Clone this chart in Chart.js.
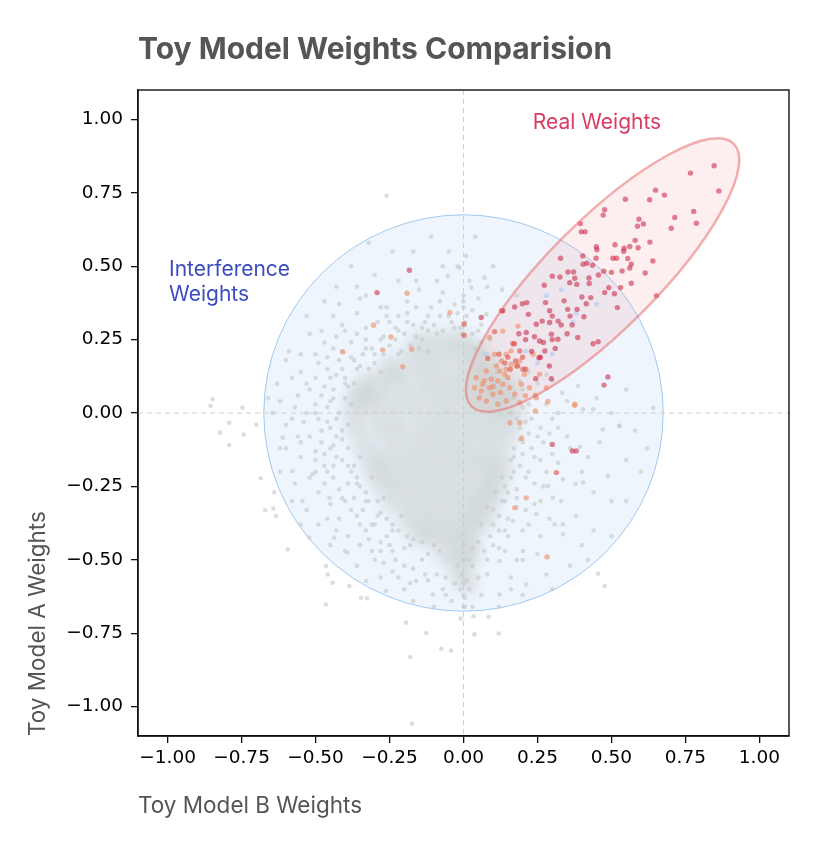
<!DOCTYPE html>
<html>
<head>
<meta charset="utf-8">
<script src="https://cdn.jsdelivr.net/npm/chart.js@4"></script>
<style>
html,body{margin:0;padding:0;background:#fff;}
#wrap{width:827px;height:843px;}
</style>
</head>
<body>
<div id="wrap"><canvas id="c" width="827" height="843"></canvas></div>
<script>
// ---------------- DATA ----------------
const chartTitle = "Toy Model Weights Comparision";
const xAxisTitle = "Toy Model B Weights";
const yAxisTitle = "Toy Model A Weights";
const tickValues = [-1.0, -0.75, -0.5, -0.25, 0.0, 0.25, 0.5, 0.75, 1.0];
const tickLabels = ["\u22121.00", "\u22120.75", "\u22120.50", "\u22120.25", "0.00", "0.25", "0.50", "0.75", "1.00"];
const axisMin = -1.1, axisMax = 1.1;

// Real weights (dark red)
const realRed = [
[0.847,0.842],[0.767,0.817],[0.863,0.756],[0.649,0.759],[0.679,0.742],[0.629,0.726],[0.547,0.728],[0.477,0.692],[0.472,0.674],
[0.778,0.686],[0.714,0.666],[0.787,0.646],[0.702,0.629],[0.593,0.660],[0.608,0.644],[0.588,0.636],[0.395,0.645],[0.398,0.617],
[0.411,0.617],[0.580,0.588],[0.630,0.582],[0.590,0.563],[0.562,0.567],[0.543,0.561],[0.541,0.551],[0.512,0.573],[0.449,0.566],
[0.451,0.556],[0.448,0.527],[0.505,0.527],[0.517,0.527],[0.555,0.526],[0.640,0.518],[0.567,0.507],[0.562,0.494],[0.614,0.477],
[0.536,0.484],[0.500,0.479],[0.474,0.483],[0.456,0.470],[0.403,0.535],[0.404,0.507],[0.417,0.510],[0.436,0.503],[0.328,0.527],
[0.353,0.480],[0.372,0.480],[0.300,0.466],[0.326,0.463],[0.376,0.459],[0.359,0.444],[0.383,0.438],[0.424,0.460],[0.425,0.441],
[0.273,0.435],[0.567,0.442],[0.531,0.427],[0.491,0.427],[0.652,0.399],[0.520,0.359],[0.455,0.243],[0.438,0.236],[0.477,0.410],
[0.510,0.406],[0.430,0.393],[0.407,0.328],[0.415,0.372],[0.384,0.353],[0.367,0.300],[0.386,0.257],[0.400,0.395],[0.340,0.382],
[0.352,0.353],[0.319,0.251],[0.320,0.313],[0.291,0.348],[0.277,0.376],[0.297,0.268],[0.291,0.308],[0.266,0.313],[0.257,0.245],
[0.246,0.302],[0.219,0.336],[0.214,0.376],[0.199,0.372],[0.173,0.361],[0.212,0.274],[0.187,0.270],[0.133,0.348],[0.275,0.211],
[0.255,0.188],[0.244,0.117],[0.297,0.117],[0.24,0.26],[0.27,0.24],[0.30,0.25],[0.31,0.22],[0.23,0.21],[0.26,0.19],[0.29,0.16],
[0.21,0.25],[0.33,0.30],[0.35,0.27],[0.36,0.33],[0.30,0.33],
[0.488,0.123],[0.475,0.095],[-0.292,0.410],[-0.183,0.486],[0.060,0.325],[0.300,-0.107],[0.368,-0.129],[0.381,-0.129]
];
// Mid (red-orange) weights
const realMid = [
[0.190,0.211],[0.167,0.236],[0.176,0.177],[0.158,0.149],[0.082,0.186],[0.172,0.236],[0.201,0.149],[0.210,0.149],[0.128,0.348],
[0.105,0.277],[0.314,-0.203],[0.002,0.302],[0.002,0.265],[0.150,0.190],[0.140,0.170],[0.120,0.200],[0.200,0.190],[0.183,0.160]
];
// Light (orange) weights
const realOrange = [
[0.043,0.120],[0.065,0.098],[0.060,0.075],[0.088,0.086],[0.099,0.064],[0.116,0.109],[0.122,0.143],[0.139,0.132],[0.144,0.149],
[0.161,0.166],[0.178,0.160],[0.111,0.160],[0.077,0.143],[0.128,0.177],[0.144,0.200],[0.161,0.211],[0.190,0.177],[0.206,0.132],
[0.195,0.098],[0.223,0.086],[0.173,0.064],[0.144,0.041],[0.116,0.030],[0.077,0.041],[0.054,0.052],[0.037,0.086],[0.094,0.115],
[0.133,0.098],[0.156,0.086],[0.190,0.035],[0.246,0.052],[0.280,0.086],[0.257,0.132],[0.235,0.200],[0.105,0.200],[0.088,0.257],
[0.184,0.296],[0.133,0.279],[0.376,0.030],[0.376,0.026],[0.285,0.039],[0.243,0.061],[0.209,0.059],[0.190,-0.033],[0.243,0.007],
[0.157,-0.033],[0.197,-0.086],[0.173,-0.323],[0.212,-0.289],[0.282,-0.490],[-0.191,0.408],[-0.046,0.342],[-0.304,0.299],
[-0.245,0.259],[-0.408,0.208],[-0.273,0.215],[-0.175,0.217],[-0.205,0.158],[0.070,0.110],[0.100,0.090],[0.125,0.070],[0.150,0.120]
];
// Cool-coloured weights
const coolPts = [
[0.21,0.21],[0.30,0.20],[0.37,0.31],[0.38,0.34],[0.25,0.17],[0.45,0.37],[0.07,0.20],[0.33,0.42],[0.28,0.40]
];
// Interference weights: dense core
const interferenceCore = [
[-0.09,0.24],[-0.03,0.25],[0.01,0.23],[-0.15,0.24],[0.05,0.21],
[-0.24,0.16],[-0.17,0.19],[-0.11,0.18],[-0.05,0.19],[0.01,0.17],[0.06,0.16],
[-0.33,0.10],[-0.27,0.12],[-0.21,0.12],[-0.14,0.13],[-0.08,0.12],[-0.02,0.12],[0.04,0.11],[0.09,0.10],[0.12,0.10],[0.16,0.08],[0.10,0.15],
[-0.36,0.05],[-0.33,0.06],[-0.27,0.06],[-0.20,0.06],[-0.13,0.07],[-0.07,0.06],[-0.01,0.06],[0.05,0.05],[0.10,0.05],[0.14,0.04],
[-0.37,0.00],[-0.30,0.01],[-0.23,0.00],[-0.16,0.01],[-0.10,0.00],[-0.04,0.00],[0.02,0.00],[0.08,-0.01],[0.13,-0.01],[0.17,0.00],
[-0.36,-0.06],[-0.28,-0.05],[-0.22,-0.06],[-0.15,-0.06],[-0.09,-0.06],[-0.03,-0.06],[0.03,-0.06],[0.09,-0.07],[0.15,-0.07],
[-0.33,-0.12],[-0.25,-0.12],[-0.18,-0.12],[-0.12,-0.12],[-0.06,-0.12],[0.00,-0.12],[0.06,-0.13],[0.12,-0.13],
[-0.31,-0.18],[-0.27,-0.18],[-0.21,-0.18],[-0.15,-0.18],[-0.09,-0.18],[-0.03,-0.18],[0.03,-0.18],[0.09,-0.19],[0.13,-0.19],
[-0.28,-0.24],[-0.23,-0.24],[-0.17,-0.24],[-0.11,-0.24],[-0.05,-0.24],[0.01,-0.24],[0.07,-0.25],[0.11,-0.25],
[-0.24,-0.30],[-0.18,-0.30],[-0.12,-0.30],[-0.06,-0.30],[0.00,-0.30],[0.05,-0.31],[0.09,-0.30],
[-0.19,-0.36],[-0.13,-0.36],[-0.07,-0.36],[-0.01,-0.36],[0.03,-0.37],[0.07,-0.36],
[-0.15,-0.41],[-0.11,-0.42],[-0.06,-0.42],[-0.01,-0.42],[0.02,-0.43],
[-0.06,-0.48],[-0.01,-0.49],[0.02,-0.48],[-0.01,-0.54],[0.01,-0.58]
];
// Interference weights: scattered points
const interferenceScatter = [
[-0.43,0.43],[-0.36,0.43],[-0.35,0.39],[-0.28,0.36],[-0.26,0.36],[-0.22,0.45],[-0.44,0.33],[-0.22,0.33],[-0.17,0.55],[-0.26,0.74],
[-0.49,0.17],[-0.59,0.21],[-0.52,0.08],[-0.62,0.04],[-0.645,0.00],[-0.55,0.14],[-0.47,0.24],[-0.40,0.28],[-0.33,0.25],[-0.30,0.20],
[-0.38,0.19],[-0.45,0.12],[-0.41,0.15],[-0.35,0.16],[-0.50,0.03],[-0.57,0.02],[-0.54,-0.03],[-0.48,0.06],[-0.16,0.36],[-0.12,0.33],
[-0.08,0.38],[-0.05,0.33],[-0.14,0.29],[-0.20,0.27],[-0.25,0.23],[-0.10,0.30],[0.00,0.40],[0.009,0.535],[-0.014,0.495],[-0.053,0.467],
[0.071,0.461],[0.026,0.427],[0.077,0.336],[0.03,0.35],[-0.03,0.29],[0.05,0.28],
[-0.611,-0.084],[-0.578,-0.198],[-0.544,-0.300],[-0.510,-0.209],[-0.453,-0.289],[-0.521,-0.425],[-0.437,-0.425],[-0.392,-0.476],
[-0.329,-0.572],[-0.262,-0.606],[-0.160,-0.572],[-0.104,-0.618],[-0.06,-0.62],[0.005,-0.63],[0.06,-0.62],[0.122,-0.618],[0.212,-0.584],
[0.280,-0.550],[0.122,-0.504],[0.201,-0.470],[0.167,-0.368],[0.246,-0.345],[0.302,-0.289],
[-0.60,-0.12],[-0.56,-0.08],[-0.50,-0.13],[-0.47,-0.18],[-0.44,-0.22],[-0.49,-0.27],[-0.40,-0.30],[-0.36,-0.35],[-0.42,-0.36],
[-0.33,-0.40],[-0.28,-0.44],[-0.30,-0.50],[-0.24,-0.47],[-0.20,-0.52],[-0.14,-0.50],[-0.09,-0.55],[-0.22,-0.56],[-0.36,-0.52],
[-0.46,-0.36],[-0.58,-0.30],[-0.62,-0.20],[-0.48,-0.10],[-0.45,-0.05],[-0.46,0.02],[-0.53,0.10],
[-0.848,0.047],[-0.855,0.024],[-0.823,-0.067],[-0.792,-0.109],[-0.792,-0.033],[-0.747,0.018],[-0.70,-0.04],[-0.743,-0.073],
[-0.685,-0.222],[-0.670,-0.331],[-0.643,-0.325],[-0.634,-0.351],[-0.594,-0.465],[-0.465,-0.521],[-0.459,-0.550],[-0.442,-0.578],
[-0.386,-0.589],[-0.346,-0.629],[-0.326,-0.631],[-0.465,-0.652],[-0.194,-0.714],[-0.126,-0.749],[-0.075,-0.803],[-0.042,-0.809],
[-0.180,-0.831],[-0.174,-1.058],[0.034,-0.692],[0.085,-0.694],[0.119,-0.751],[0.037,-0.754],[0.455,-0.547],[0.477,-0.589],
[-0.01,-0.70],[0.00,-0.66],
[0.00,-0.58],[-0.01,-0.60],[0.01,-0.57],[-0.02,-0.52],[0.02,-0.50],[0.00,-0.45],[0.03,-0.46],[-0.03,-0.58],
[0.641,0.018],[0.528,-0.044],[0.471,-0.056],[0.488,-0.215],[0.404,-0.237],[0.379,-0.241],[0.336,-0.226],[0.285,-0.249],
[0.336,-0.379],[0.308,-0.379],[0.336,-0.413],[0.393,-0.116],[0.438,0.013],[0.404,0.013],[0.387,0.092],[0.333,0.069],[0.526,-0.044],
[0.20,-0.10],[0.24,-0.15],[0.22,-0.20],[0.18,-0.26],[0.26,-0.05],[0.30,-0.02],[0.28,0.03],[0.20,0.02],[0.17,-0.15],[0.21,-0.33],
[0.15,-0.42],[0.10,-0.45],[0.08,-0.55],[0.26,-0.42],[0.38,-0.35],[0.42,-0.15],[0.46,-0.10],[0.35,-0.08],[0.30,-0.14],[0.25,0.10],
[0.22,0.14],[0.30,0.11],[0.35,0.04],[0.45,0.05],[0.55,-0.16],[0.50,-0.30],[0.44,-0.40],[0.40,-0.45],[0.18,-0.50],[0.24,-0.24],
[0.14,-0.30],[0.12,-0.35],[0.16,-0.22],[0.19,-0.05],
[-0.44,0.08],[-0.40,0.12],[-0.36,0.15],[-0.30,0.17],[-0.27,0.20],[-0.18,0.23],[-0.14,0.25],[-0.07,0.28],[-0.01,0.29],[0.04,0.22],
[0.08,0.20],[0.11,0.14],[0.17,0.05],[0.18,-0.02],[0.19,-0.09],[0.16,-0.16],[0.13,-0.22],[0.11,-0.27],[0.08,-0.32],[0.06,-0.38],
[0.05,-0.44],[-0.08,-0.47],[-0.14,-0.44],[-0.19,-0.42],[-0.24,-0.38],[-0.28,-0.34],[-0.32,-0.30],[-0.35,-0.25],[-0.38,-0.20],
[-0.41,-0.16],[-0.44,-0.11],[-0.46,-0.03],[-0.45,0.04],[-0.42,-0.26],[-0.37,-0.29],[-0.31,-0.38],[-0.26,-0.42],[-0.20,-0.46],
[-0.12,-0.48],[0.09,-0.42],[0.12,-0.40],[0.14,-0.25],[0.20,-0.14],[0.22,-0.07],[0.20,0.08],[0.15,0.12],[-0.34,0.20],[-0.22,0.28],[-0.12,0.21],
[-0.48,0.28],[-0.44,0.22],[-0.41,0.30],[-0.38,0.24],[-0.36,0.34],[-0.33,0.29],[-0.31,0.22],[-0.29,0.31],[-0.27,0.26],[-0.25,0.31],
[-0.23,0.25],[-0.21,0.21],[-0.19,0.31],[-0.16,0.26],[-0.13,0.31],[-0.42,0.18],[-0.39,0.09],[-0.46,0.15],[-0.50,0.20],[-0.52,0.27],
[-0.56,0.06],[-0.58,0.12],[-0.60,-0.04],[-0.63,0.10],[-0.66,0.05],
[-0.11,0.36],[-0.07,0.41],[-0.03,0.37],[0.01,0.33],[0.02,0.45],[-0.02,0.50],[-0.09,0.45],[-0.15,0.42],[-0.19,0.38],[0.05,0.39],
[0.00,0.36],[-0.05,0.55],[0.04,0.60],[-0.11,0.60],[0.10,0.50],[0.13,0.42],[-0.30,0.47],[-0.38,0.50],[-0.47,0.38],[-0.53,0.33],
[-0.24,0.55],[-0.32,0.58],
[-0.52,-0.08],[-0.55,-0.15],[-0.50,-0.20],[-0.57,-0.24],[-0.47,-0.24],[-0.53,-0.33],[-0.45,-0.31],[-0.49,-0.38],[-0.43,-0.40],
[-0.39,-0.42],[-0.35,-0.45],[-0.31,-0.47],[-0.27,-0.51],[-0.24,-0.54],[-0.18,-0.58],[-0.13,-0.55],[-0.07,-0.60],[-0.17,-0.64],
[-0.10,-0.66],[-0.43,-0.15],[-0.48,-0.06],[-0.50,0.00],[-0.45,-0.12],[-0.62,-0.12],[-0.64,-0.27],
[0.18,-0.32],[0.22,-0.38],[0.26,-0.30],[0.28,-0.20],[0.32,-0.17],[0.27,-0.10],[0.23,-0.02],[0.32,-0.05],[0.36,-0.12],[0.40,-0.20],
[0.44,-0.27],[0.33,-0.30],[0.29,-0.36],[0.25,-0.48],[0.16,-0.56],[0.20,-0.62],[0.12,-0.66],[0.30,-0.60],[0.36,-0.52],[0.42,-0.50],
[0.50,-0.42],[0.55,-0.30],[0.60,-0.20],[0.58,-0.06],[0.50,0.00],[0.55,0.08],[0.62,-0.12],[0.14,-0.47],[0.20,-0.40],[0.17,-0.20],
[-0.40,0.05],[-0.43,-0.02],[-0.41,-0.09],[-0.39,-0.18],[-0.36,-0.22],[-0.33,-0.27],[-0.29,-0.30],[-0.26,-0.36],[-0.22,-0.40],
[-0.17,-0.43],[-0.10,-0.45],[0.03,-0.52],[0.07,-0.47],[0.10,-0.38],[0.13,-0.30],[0.15,-0.27],[0.17,-0.12],[0.19,-0.18],[0.21,-0.03],
[0.16,0.00],[-0.37,0.10],[-0.32,0.15],[-0.28,0.14],[-0.22,0.20],[-0.15,0.22],[-0.09,0.27],[-0.04,0.31],[0.03,0.27],[0.06,0.24],[-0.46,-0.20],
[0.00,0.38],[0.005,0.31],[-0.005,0.27],[0.00,-0.62],[0.005,-0.66],[-0.005,-0.55],[0.00,-0.50],
[-0.47,0.09],[-0.49,-0.02],[-0.47,-0.14],[-0.44,-0.18],[-0.50,-0.16],[-0.43,0.13],[-0.46,0.19],[-0.41,0.21],[-0.39,-0.24],[-0.41,-0.29],
[-0.38,-0.33],[-0.35,-0.38],[-0.32,-0.43],[-0.28,-0.47],[-0.23,-0.50],[-0.17,-0.53],[-0.12,-0.57],[-0.06,-0.56],[0.05,-0.56],[0.08,-0.50],
[0.12,-0.46],[0.15,-0.36],[0.18,-0.29],[0.21,-0.22],[0.23,-0.12],[0.25,-0.08],[0.22,0.03],[0.19,0.11],[0.24,0.06],[0.13,0.18],
[0.09,0.25],[0.06,0.30],[-0.02,0.34],[-0.08,0.33],[-0.12,0.28],[-0.17,0.30],[-0.23,0.29],[-0.28,0.25],[-0.33,0.22],[-0.37,0.18],
[-0.43,0.26],[-0.36,0.27],[-0.26,0.33],[-0.19,0.34],[-0.30,-0.38],[-0.25,-0.45],[-0.34,-0.33],[0.10,-0.33],[0.14,-0.40],[0.02,-0.60],
[-0.04,-0.64],[0.03,-0.66],[-0.52,-0.22],[-0.55,-0.10],[-0.53,0.00],[-0.50,0.12],[-0.55,0.20],[0.27,-0.25],[0.26,-0.16],[0.29,-0.07],
[0.32,0.00],[0.28,0.13],[0.24,-0.31],[0.20,-0.50],[0.16,-0.60],[-0.20,-0.60],[-0.28,-0.56],[-0.40,-0.47],[-0.45,-0.45],[-0.55,-0.38],
[-0.58,-0.02],[-0.60,0.18],[-0.42,0.37],[-0.33,0.40],[-0.16,0.45],[-0.07,0.50],[0.08,0.43],[0.18,0.40],
[-0.42,0.00],[-0.41,-0.06],[-0.40,0.10],[-0.39,-0.12],[-0.37,-0.18],[-0.36,-0.24],[-0.33,-0.30],[-0.29,-0.35],[-0.24,-0.40],
[-0.18,-0.45],[-0.44,0.05],[-0.43,-0.08],[-0.38,0.03],[-0.39,-0.04],[-0.35,-0.15],[-0.31,-0.22],[-0.27,-0.29],[-0.21,-0.35]
];

// Annotation regions and labels
const interferenceRegion = {cx: 0.0, cy: 0.0, r: 0.675};
const realRegion = {cx: 0.47, cy: 0.47, a: 0.627, b: 0.184, angleDeg: 45};
const realLabel = {text: "Real Weights", x: 0.234, y: 0.99};
const interferenceLabel = {lines: ["Interference", "Weights"], x: -0.995, y: [0.487, 0.402]};

// ---------------- CHART ----------------
const toXY = arr => arr.map(p => ({x: p[0], y: p[1]}));
const CORE_INDEX = 5;

const decor = {
  id: 'decor',
  beforeDraw(chart) {
    const {ctx, width, height} = chart;
    ctx.save(); ctx.fillStyle = '#ffffff'; ctx.fillRect(0, 0, width, height); ctx.restore();
  },
  beforeDatasetsDraw(chart) {
    const {ctx, chartArea: ca, scales: {x, y}} = chart;
    ctx.save();
    ctx.beginPath(); ctx.rect(ca.left, ca.top, ca.right - ca.left, ca.bottom - ca.top); ctx.clip();
    const cx = x.getPixelForValue(interferenceRegion.cx), cy = y.getPixelForValue(interferenceRegion.cy);
    const rx = Math.abs(x.getPixelForValue(interferenceRegion.r) - x.getPixelForValue(0));
    const ry = Math.abs(y.getPixelForValue(interferenceRegion.r) - y.getPixelForValue(0));
    ctx.beginPath(); ctx.ellipse(cx, cy, rx, ry, 0, 0, Math.PI * 2);
    ctx.fillStyle = 'rgba(30,120,220,0.07)'; ctx.fill();
    ctx.lineWidth = 1; ctx.strokeStyle = 'rgba(150,195,240,0.9)'; ctx.stroke();
    ctx.setLineDash([5, 4]); ctx.lineWidth = 1; ctx.strokeStyle = '#cfcfcf';
    const x0 = x.getPixelForValue(0), y0 = y.getPixelForValue(0);
    ctx.beginPath(); ctx.moveTo(x0, ca.top); ctx.lineTo(x0, ca.bottom); ctx.stroke();
    ctx.beginPath(); ctx.moveTo(ca.left, y0); ctx.lineTo(ca.right, y0); ctx.stroke();
    ctx.setLineDash([]);
    const ex = x.getPixelForValue(realRegion.cx), ey = y.getPixelForValue(realRegion.cy);
    const ppu = Math.abs(x.getPixelForValue(1) - x.getPixelForValue(0));
    ctx.beginPath();
    ctx.ellipse(ex, ey, realRegion.a * ppu, realRegion.b * ppu, -realRegion.angleDeg * Math.PI / 180, 0, Math.PI * 2);
    ctx.fillStyle = 'rgba(240,120,120,0.12)'; ctx.fill();
    ctx.restore();
  },
  beforeDatasetDraw(chart, args) {
    if (args.index === CORE_INDEX) { chart.ctx.save(); chart.ctx.filter = 'blur(6px)'; }
  },
  afterDatasetDraw(chart, args) {
    if (args.index === CORE_INDEX) { chart.ctx.restore(); }
  },
  afterDatasetsDraw(chart) {
    const {ctx, chartArea: ca, scales: {x, y}} = chart;
    ctx.save();
    ctx.beginPath(); ctx.rect(ca.left, ca.top, ca.right - ca.left, ca.bottom - ca.top); ctx.clip();
    const ex = x.getPixelForValue(realRegion.cx), ey = y.getPixelForValue(realRegion.cy);
    const ppu = Math.abs(x.getPixelForValue(1) - x.getPixelForValue(0));
    ctx.beginPath();
    ctx.ellipse(ex, ey, realRegion.a * ppu, realRegion.b * ppu, -realRegion.angleDeg * Math.PI / 180, 0, Math.PI * 2);
    ctx.lineWidth = 2.5; ctx.strokeStyle = 'rgba(232,112,112,0.55)'; ctx.stroke();
    ctx.restore();
    ctx.save();
    ctx.font = '21px Inter';
    ctx.textBaseline = 'middle'; ctx.textAlign = 'left';
    ctx.fillStyle = '#d93b62';
    ctx.fillText(realLabel.text, x.getPixelForValue(realLabel.x), y.getPixelForValue(realLabel.y));
    ctx.fillStyle = '#3b4cc0';
    interferenceLabel.lines.forEach((t, i) => {
      ctx.fillText(t, x.getPixelForValue(interferenceLabel.x), y.getPixelForValue(interferenceLabel.y[i]));
    });
    ctx.restore();
  },
  afterDraw(chart) {
    const {ctx, chartArea: ca} = chart;
    ctx.save();
    ctx.lineWidth = 1.4; ctx.strokeStyle = '#111';
    ctx.strokeRect(ca.left, ca.top, ca.right - ca.left, ca.bottom - ca.top);
    ctx.font = 'bold 30px Inter';
    ctx.fillStyle = '#555555';
    ctx.textBaseline = 'alphabetic'; ctx.textAlign = 'left';
    ctx.fillText(chartTitle, ca.left, 59);
    ctx.restore();
  }
};

const tickFont = {family: 'DejaVu Sans', size: 18.5};
const titleFont = {family: 'Inter', size: 22.5};

function axis(isX) {
  return {
    type: 'linear',
    min: axisMin, max: axisMax,
    afterBuildTicks: s => { s.ticks = tickValues.map(v => ({value: v})); },
    afterFit: s => { if (isX) s.height = 107; else s.width = 138; },
    ticks: {
      color: '#000', font: tickFont, padding: isX ? 4 : 8,
      autoSkip: false, maxRotation: 0,
      callback: (v) => { const i = tickValues.findIndex(t => Math.abs(t - v) < 1e-9); return i >= 0 ? tickLabels[i] : ''; }
    },
    grid: {drawOnChartArea: false, drawTicks: true, tickLength: 7, color: '#111', lineWidth: 1.3},
    border: {display: true, color: '#111', width: 1.4},
    title: {
      display: true, text: isX ? xAxisTitle : yAxisTitle, align: 'start', color: '#555555', font: titleFont,
      padding: isX ? {top: 0, bottom: 23.5} : {top: 24.5, bottom: 0}
    }
  };
}

new Chart(document.getElementById('c'), {
  type: 'scatter',
  data: {
    datasets: [
      {label: 'Real (high)', data: toXY(realRed), backgroundColor: 'rgba(200,30,62,0.55)', pointRadius: 2.7, borderWidth: 0},
      {label: 'Real (mid)', data: toXY(realMid), backgroundColor: 'rgba(222,80,66,0.6)', pointRadius: 2.7, borderWidth: 0},
      {label: 'Real (low)', data: toXY(realOrange), backgroundColor: 'rgba(240,140,100,0.6)', pointRadius: 2.7, borderWidth: 0},
      {label: 'Cool', data: toXY(coolPts), backgroundColor: 'rgba(185,205,240,0.7)', pointRadius: 2.5, borderWidth: 0},
      {label: 'Interference', data: toXY(interferenceScatter), backgroundColor: 'rgba(198,204,202,0.65)', pointRadius: 2.3, borderWidth: 0},
      {label: 'Interference core', data: toXY(interferenceCore), backgroundColor: 'rgba(200,206,204,0.45)', pointRadius: 12, borderWidth: 0}
    ]
  },
  options: {
    responsive: false,
    animation: false,
    devicePixelRatio: 1,
    events: [],
    layout: {padding: {top: 90, right: 38, bottom: 0, left: 0}},
    plugins: {legend: {display: false}, tooltip: {enabled: false}, title: {display: false}},
    scales: {x: axis(true), y: axis(false)}
  },
  plugins: [decor]
});
</script>
</body>
</html>
